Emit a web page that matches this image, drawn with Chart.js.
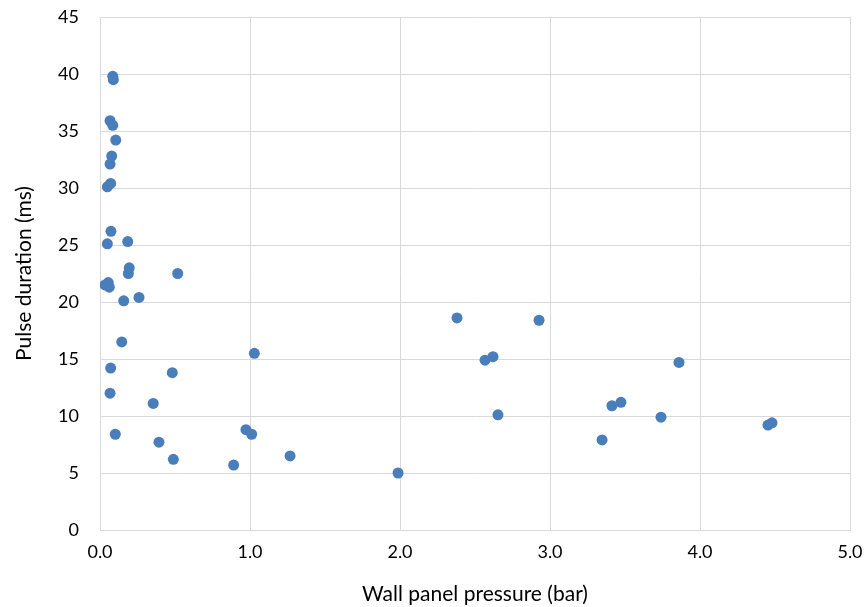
<!DOCTYPE html>
<html>
<head>
<meta charset="utf-8">
<script src="https://cdn.jsdelivr.net/npm/chart.js@4/dist/chart.umd.min.js"></script>
<style>
  html, body { margin: 0; padding: 0; background: #ffffff; }
  #wrap { width: 867px; height: 607px; position: relative; }
</style>
</head>
<body>
<div id="wrap"><canvas id="chart"></canvas></div>
<script>
// Wall panel pressure (bar) for each recorded pulse
const pressure = [
  0.085, 0.089, 0.067, 0.085, 0.105, 0.078, 0.067, 0.071, 0.049,
  0.073, 0.049, 0.185, 0.195, 0.189, 0.518, 0.055, 0.033, 0.062,
  0.260, 0.158, 0.145, 0.071, 0.482, 1.029, 0.067, 0.355, 0.102,
  0.393, 0.489, 0.973, 1.011, 0.891, 1.267, 1.987,
  2.380, 2.927, 2.567, 2.620, 2.653, 3.860, 3.473, 3.413, 3.740,
  3.347, 4.453, 4.480
];
// Pulse duration (ms) for each recorded pulse
const duration = [
  39.8, 39.5, 35.9, 35.5, 34.2, 32.8, 32.1, 30.4, 30.1,
  26.2, 25.1, 25.3, 23.0, 22.5, 22.5, 21.7, 21.5, 21.3,
  20.4, 20.1, 16.5, 14.2, 13.8, 15.5, 12.0, 11.1, 8.4,
  7.7, 6.2, 8.8, 8.4, 5.7, 6.5, 5.0,
  18.6, 18.4, 14.9, 15.2, 10.1, 14.7, 11.2, 10.9, 9.9,
  7.9, 9.2, 9.4
];
const xTicks = [0, 1, 2, 3, 4, 5];
const yTicks = [0, 5, 10, 15, 20, 25, 30, 35, 40, 45];
const xTitle = 'Wall panel pressure (bar)';
const yTitle = 'Pulse duration (ms)';

const points = pressure.map((p, i) => ({ x: p, y: duration[i] }));
const FONT = 'Lato, "Open Sans", sans-serif';
const GRID = '#d9d9d9';

new Chart(document.getElementById('chart'), {
  type: 'scatter',
  data: {
    datasets: [{
      data: points,
      backgroundColor: '#4a7ebb',
      borderColor: '#4a7ebb',
      borderWidth: 0,
      pointRadius: 5.5,
      pointHoverRadius: 5.5
    }]
  },
  options: {
    responsive: true,
    maintainAspectRatio: false,
    animation: false,
    layout: { padding: { top: 17, right: 17, left: 0, bottom: 0 } },
    plugins: { legend: { display: false }, tooltip: { enabled: false } },
    scales: {
      x: {
        type: 'linear',
        min: xTicks[0],
        max: xTicks[xTicks.length - 1],
        afterBuildTicks: s => { s.ticks = xTicks.map(v => ({ value: v })); },
        afterFit: s => {
          s.height = 77;
          s.paddingLeft = 0;
          s.paddingRight = 0;
        },
        grid: { color: GRID, lineWidth: 1, drawTicks: false },
        border: { color: GRID, width: 1 },
        ticks: {
          padding: 11,
          color: '#000000',
          font: { family: FONT, size: 18 },
          callback: v => Number(v).toFixed(1)
        },
        title: {
          display: true,
          text: xTitle,
          color: '#000000',
          font: { family: FONT, size: 21 },
          padding: { top: 0, bottom: 0 }
        }
      },
      y: {
        type: 'linear',
        min: yTicks[0],
        max: yTicks[yTicks.length - 1],
        afterBuildTicks: s => { s.ticks = yTicks.map(v => ({ value: v })); },
        afterFit: s => {
          s.width = 100;
          s.paddingTop = 0;
          s.paddingBottom = 0;
        },
        grid: { color: GRID, lineWidth: 1, drawTicks: false },
        border: { color: GRID, width: 1 },
        ticks: {
          padding: 21,
          color: '#000000',
          font: { family: FONT, size: 18 }
        },
        title: {
          display: true,
          text: yTitle,
          color: '#000000',
          font: { family: FONT, size: 21 },
          padding: { top: 12, bottom: 0 }
        }
      }
    }
  }
});
</script>
</body>
</html>
